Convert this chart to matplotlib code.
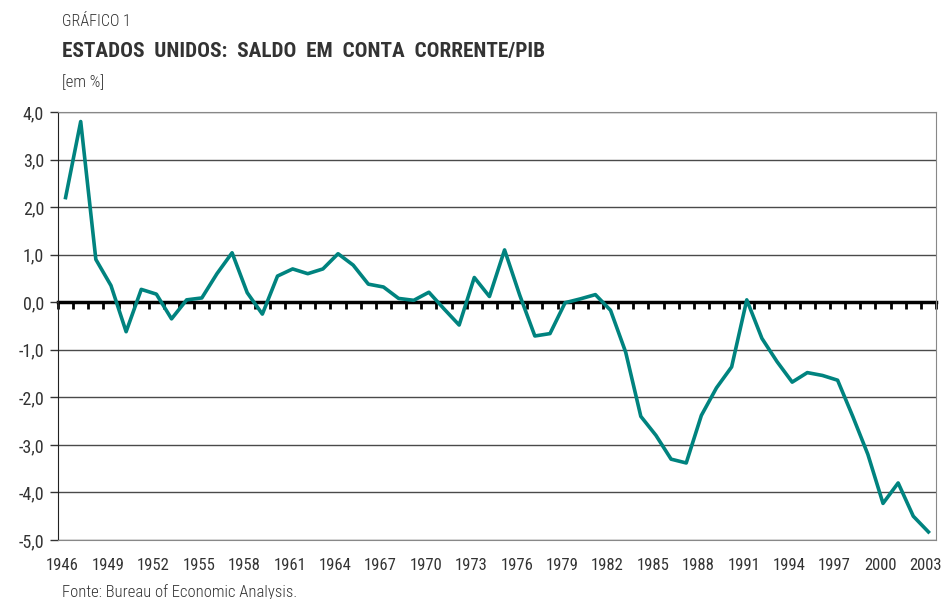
import matplotlib.pyplot as plt
import matplotlib.transforms as mtransforms
from matplotlib import font_manager

# dados (saldo em conta corrente / PIB, em %)
anos = list(range(1946, 2004))
saldo = [2.2, 3.8, 0.9, 0.35, -0.62, 0.27, 0.17, -0.35, 0.05, 0.09,
         0.6, 1.04, 0.2, -0.25, 0.55, 0.7, 0.6, 0.7, 1.02, 0.78,
         0.38, 0.32, 0.08, 0.04, 0.21, -0.14, -0.48, 0.52, 0.12, 1.1,
         0.15, -0.71, -0.66, -0.01, 0.07, 0.16, -0.17, -1.05, -2.4, -2.8,
         -3.3, -3.38, -2.38, -1.8, -1.36, 0.05, -0.76, -1.25, -1.68, -1.48,
         -1.54, -1.64, -2.4, -3.2, -4.23, -3.8, -4.5, -4.83]
yticks = [4, 3, 2, 1, 0, -1, -2, -3, -4, -5]

# procura uma fonte estreita, senão usa Roboto
nomes = set(f.name for f in font_manager.fontManager.ttflist)
fonte = 'Roboto'
for f in ['Roboto Condensed', 'Liberation Sans Narrow', 'Open Sans Condensed']:
    if f in nomes:
        fonte = f
        break
plt.rcParams['font.family'] = [fonte, 'DejaVu Sans']
plt.rcParams['axes.unicode_minus'] = False

cor_texto = '#333333'

fig = plt.figure(figsize=(9.44, 5.99), dpi=100)
ax = fig.add_axes([58 / 944, 1 - 540 / 599, 878 / 944, 428 / 599])

x = list(range(len(anos)))
ax.plot(x, saldo, color='#00837f', linewidth=2.6, zorder=3)

ax.set_xlim(-0.5, len(anos) - 0.5)
ax.set_ylim(-5, 4)

# grade horizontal
for v in yticks:
    if v != 0:
        ax.axhline(v, color='#4a4a4a', linewidth=1.0, zorder=1)

ax.set_yticks(yticks)
ax.set_yticklabels([f'{v},0' for v in yticks], fontsize=13, color=cor_texto)
ax.tick_params(axis='y', direction='out', length=6, width=1, colors=cor_texto, pad=4)

pos = [i for i, a in enumerate(anos) if (a - 1946) % 3 == 0]
ax.set_xticks(pos)
ax.set_xticklabels([str(anos[i]) for i in pos], fontsize=12, color=cor_texto)
ax.tick_params(axis='x', length=0, pad=13)
desloc = mtransforms.ScaledTranslation(-3 / 100, 0, fig.dpi_scale_trans)
for t in ax.get_xticklabels():
    t.set_transform(t.get_transform() + desloc)

ax.spines['left'].set_color('#222222')
for s in ['top', 'right', 'bottom']:
    ax.spines[s].set_color('#888888')

# eixo no zero com marcas entre as categorias
sec = ax.secondary_xaxis(0, transform=ax.transData)
sec.set_xticks([i + 0.5 for i in range(-1, len(anos))])
sec.set_xticklabels([])
sec.tick_params(axis='x', direction='out', length=5, width=2, color='black')
sec.spines['bottom'].set_linewidth(2.5)
sec.spines['bottom'].set_color('black')

fig.text(62 / 944, 1 - 22 / 599, 'GRÁFICO 1', fontsize=11.5, fontweight='light',
         color=cor_texto, va='center')
fig.text(62 / 944, 1 - 52 / 599, 'ESTADOS  UNIDOS:  SALDO  EM  CONTA  CORRENTE/PIB',
         fontsize=15.3, fontweight='bold', color=cor_texto, va='center')
fig.text(62 / 944, 1 - 82 / 599, '[em %]', fontsize=12, fontweight='light',
         color=cor_texto, va='center')
fig.text(62 / 944, 1 - 592 / 599, 'Fonte: Bureau of Economic Analysis.', fontsize=12,
         fontweight='light', color=cor_texto, va='center')

fig.savefig('out.png', dpi=100)
